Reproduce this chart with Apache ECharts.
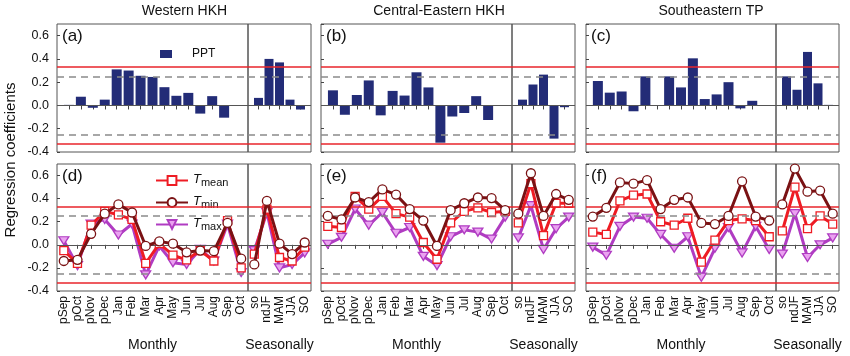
<!DOCTYPE html>
<html><head><meta charset="utf-8">
<script src="https://cdn.jsdelivr.net/npm/echarts@6/dist/echarts.min.js"></script>
<style>html,body{margin:0;padding:0;background:#fff}#c{width:850px;height:356px}</style>
</head><body><div id="c"></div>
<script>
// ---------- data ----------
const months = ['pSep','pOct','pNov','pDec','Jan','Feb','Mar','Apr','May','Jun','Jul','Aug','Sep','Oct'];
const seasons = ['so','ndJF','MAM','JJA','SO'];
const regionTitles = ['Western HKH','Central-Eastern HKH','Southeastern TP'];
const panelLabels = ['(a)','(b)','(c)','(d)','(e)','(f)'];
const yTickMin = -0.4, yTickMax = 0.7, yTickStep = 0.2;
const sigLevels = [0.325, -0.325];
const dashLevels = [0.25, -0.25];

// PPT (bars)
const pptWestMonthly = [0.005, 0.075, -0.02, 0.05, 0.31, 0.30, 0.255, 0.245, 0.157, 0.083, 0.108, -0.07, 0.08, -0.105];
const pptWestSeasonal = [0.065, 0.40, 0.37, 0.05, -0.035];
const pptCentralMonthly = [0.13, -0.08, 0.09, 0.215, -0.085, 0.125, 0.085, 0.285, 0.155, -0.32, -0.095, -0.065, 0.08, -0.125];
const pptCentralSeasonal = [0.05, 0.18, 0.265, -0.285, -0.015];
const pptSEMonthly = [0.21, 0.11, 0.12, -0.05, 0.25, 0, 0.25, 0.155, 0.405, 0.055, 0.095, 0.20, -0.025, 0.04];
const pptSESeasonal = [0.25, 0.135, 0.46, 0.19, 0.005];

// Temperatures (lines)
const tmeanWestMonthly = [-0.05, -0.16, 0.17, 0.29, 0.26, 0.22, -0.16, 0.01, -0.09, -0.13, -0.05, -0.14, 0.21, -0.20];
const tminWestMonthly  = [-0.14, -0.13, 0.095, 0.27, 0.35, 0.28, -0.01, 0.03, 0.01, -0.065, -0.05, -0.055, 0.19, -0.12];
const tmaxWestMonthly  = [0.035, -0.18, 0.18, 0.22, 0.085, 0.18, -0.26, -0.01, -0.155, -0.17, -0.04, -0.14, 0.18, -0.24];
const tmeanWestSeasonal = [-0.08, 0.31, -0.11, -0.14, -0.02];
const tminWestSeasonal  = [-0.17, 0.38, 0.01, -0.08, 0.02];
const tmaxWestSeasonal  = [-0.05, 0.28, -0.20, -0.17, -0.07];

const tmeanCentralMonthly = [0.16, 0.15, 0.42, 0.31, 0.42, 0.27, 0.24, 0.02, -0.125, 0.19, 0.29, 0.32, 0.28, 0.29];
const tminCentralMonthly  = [0.25, 0.22, 0.41, 0.37, 0.48, 0.435, 0.31, 0.21, -0.01, 0.30, 0.36, 0.41, 0.405, 0.30];
const tmaxCentralMonthly  = [0.005, 0.065, 0.31, 0.17, 0.28, 0.10, 0.15, -0.10, -0.18, 0.07, 0.13, 0.11, 0.05, 0.24];
const tmeanCentralSeasonal = [0.19, 0.53, 0.08, 0.36, 0.36];
const tminCentralSeasonal  = [0.27, 0.62, 0.25, 0.44, 0.39];
const tmaxCentralSeasonal  = [0.06, 0.34, -0.04, 0.14, 0.24];

const tmeanSEMonthly = [0.11, 0.09, 0.38, 0.43, 0.44, 0.20, 0.17, 0.23, -0.15, 0.04, 0.21, 0.225, 0.21, 0.07];
const tminSEMonthly  = [0.245, 0.32, 0.54, 0.53, 0.56, 0.31, 0.39, 0.41, 0.19, 0.18, 0.25, 0.55, 0.245, 0.21];
const tmaxSEMonthly  = [-0.02, -0.09, 0.16, 0.24, 0.23, 0.09, -0.03, 0.07, -0.28, -0.03, 0.15, -0.07, 0.16, -0.04];
const tmeanSESeasonal = [0.12, 0.50, 0.14, 0.25, 0.18];
const tminSESeasonal  = [0.35, 0.66, 0.46, 0.47, 0.27];
const tmaxSESeasonal  = [-0.08, 0.27, -0.11, 0.00, 0.06];

// ---------- assembly ----------
const FONT = '"Liberation Sans", Arial, Helvetica, sans-serif';
const pptData = [[pptWestMonthly, pptWestSeasonal],[pptCentralMonthly, pptCentralSeasonal],[pptSEMonthly, pptSESeasonal]];
const tempData = [
  {Tmean:[tmeanWestMonthly,tmeanWestSeasonal], Tmin:[tminWestMonthly,tminWestSeasonal], Tmax:[tmaxWestMonthly,tmaxWestSeasonal]},
  {Tmean:[tmeanCentralMonthly,tmeanCentralSeasonal], Tmin:[tminCentralMonthly,tminCentralSeasonal], Tmax:[tmaxCentralMonthly,tmaxCentralSeasonal]},
  {Tmean:[tmeanSEMonthly,tmeanSESeasonal], Tmin:[tminSEMonthly,tminSESeasonal], Tmax:[tmaxSEMonthly,tmaxSESeasonal]}
];
const lineStyles = {
  Tmax:  {color:'#b03cc2', fill:'#eaa2f0', symbol:'triangle', size:[10,8], rotate:180, z:3},
  Tmean: {color:'#ee1c24', fill:'#ffffff', symbol:'rect', size:8, rotate:0, z:4},
  Tmin:  {color:'#7a1214', fill:'#ffffff', symbol:'circle', size:9, rotate:0, z:5}
};
const colsX = [[57,248,311],[321,512,575],[586,776,839]];
const rowsY = [[24,152],[164,291]];

function refMarkLine(){
  return {silent:true, symbol:'none', label:{show:false}, animation:false,
    data:[
      ...sigLevels.map(v=>({yAxis:v, lineStyle:{color:'#e8242b', width:1.5, type:'solid'}})),
      ...dashLevels.map(v=>({yAxis:v, lineStyle:{color:'#8a8a8a', width:1.5, type:[7,5]}})),
      {yAxis:0, lineStyle:{color:'#555', width:1, type:'solid'}}
    ]};
}

const grids=[], xAxes=[], yAxes=[], series=[], graphics=[];
for (let r=0;r<2;r++) for (let c=0;c<3;c++) for (let p=0;p<2;p++){
  const idx = grids.length;
  const left = p ? colsX[c][1] : colsX[c][0];
  const right = p ? colsX[c][2] : colsX[c][1];
  grids.push({left:left, width:right-left, top:rowsY[r][0], height:rowsY[r][1]-rowsY[r][0],
    show:true, borderColor:'#555', borderWidth:1, backgroundColor:'transparent', containLabel:false});
  const cats = p ? seasons : months;
  if (r===0){
    xAxes.push({type:'value', gridIndex:idx, min:0, max:cats.length+(p?1:2), interval:1,
      axisLine:{show:false}, splitLine:{show:false}, axisLabel:{show:false},
      axisTick:{show:true, length:4, lineStyle:{color:'#444'}, customValues: cats.map((_,i)=>i+1)}});
  } else {
    xAxes.push({type:'category', gridIndex:idx, data:cats, boundaryGap:true,
      axisLine:{show:false}, splitLine:{show:false},
      axisTick:{show:true, alignWithLabel:true, length:4, lineStyle:{color:'#444'}},
      axisLabel:{rotate:90, fontSize:12, color:'#111', margin:5, fontFamily:FONT, interval:0}});
  }
  yAxes.push({type:'value', gridIndex:idx, min:yTickMin, max:yTickMax, interval:yTickStep,
    axisLine:{show:false}, splitLine:{show:false},
    axisTick:{show:p===0, inside:true, length:3, lineStyle:{color:'#444'}},
    axisLabel:{show:p===0 && c===0, formatter:v=>v.toFixed(1), showMaxLabel:false,
      fontSize:12.5, margin:8, color:'#111', fontFamily:FONT}});
  if (r===0){
    series.push({type:'bar', name:'PPT', xAxisIndex:idx, yAxisIndex:idx, barWidth:p?9:10,
      itemStyle:{color:'#232c77'}, data:pptData[c][p].map((v,i)=>[i+1,v]),
      markLine:refMarkLine(), animation:false});
  } else {
    ['Tmax','Tmean','Tmin'].forEach((k,j)=>{
      const st=lineStyles[k];
      series.push({type:'line', name:k, xAxisIndex:idx, yAxisIndex:idx, data:tempData[c][k][p],
        symbol:st.symbol, symbolSize:st.size, symbolRotate:st.rotate, z:st.z, showAllSymbol:true,
        lineStyle:{color:st.color, width:3}, itemStyle:{color:st.fill, borderColor:st.color, borderWidth:1.3},
        emphasis:{disabled:true}, animation:false,
        markLine: j===0 ? refMarkLine() : undefined});
    });
  }
  if (p===0){
    graphics.push({type:'text', left:left+5, top:rowsY[r][0]+4,
      style:{text:panelLabels[r*3+c], fill:'#111', font:'17px '+FONT}});
  }
}

regionTitles.forEach((t,c)=>{
  const cx = [184.5, 439, 711][c];
  graphics.push({type:'text', x:cx, y:11, style:{text:t, fill:'#111', font:'14px '+FONT, align:'center', verticalAlign:'middle', textAlign:'center', textVerticalAlign:'middle'}});
  const m = (colsX[c][0]+colsX[c][1])/2, s=(colsX[c][1]+colsX[c][2])/2;
  graphics.push({type:'text', x:m, y:345, style:{text:'Monthly', fill:'#111', font:'14px '+FONT, align:'center', verticalAlign:'middle', textAlign:'center', textVerticalAlign:'middle'}});
  graphics.push({type:'text', x:s, y:345, style:{text:'Seasonally', fill:'#111', font:'14px '+FONT, align:'center', verticalAlign:'middle', textAlign:'center', textVerticalAlign:'middle'}});
});
graphics.push({type:'text', x:11, y:160, rotation:Math.PI/2,
  style:{text:'Regression coefficients', fill:'#111', font:'15px '+FONT, align:'center', verticalAlign:'middle', textAlign:'center', textVerticalAlign:'middle'}});

const option = {
  animation:false,
  backgroundColor:'#ffffff',
  grid:grids, xAxis:xAxes, yAxis:yAxes, series:series, graphic:graphics,
  legend:[
    {data:[{name:'PPT', icon:'rect'}], left:155, top:43, itemWidth:12, itemHeight:8, selectedMode:false,
     textStyle:{fontSize:12, color:'#111', fontFamily:FONT, padding:[0,0,0,15]}},
    {data:['Tmean','Tmin','Tmax'], orient:'vertical', left:150, top:166, itemWidth:32, itemHeight:11, itemGap:5,
     selectedMode:false,
     formatter:n=>'{t|T}{s|'+n.slice(1)+'}',
     textStyle:{fontFamily:FONT, color:'#111',
       rich:{t:{fontSize:13, fontStyle:'italic', fontFamily:FONT, lineHeight:15, verticalAlign:'top', color:'#111'},
             s:{fontSize:11, fontFamily:FONT, lineHeight:11, verticalAlign:'bottom', padding:[6,0,0,0], color:'#111'}}}}
  ]
};
const chart = echarts.init(document.getElementById('c'));
chart.setOption(option);
</script>
</body></html>
